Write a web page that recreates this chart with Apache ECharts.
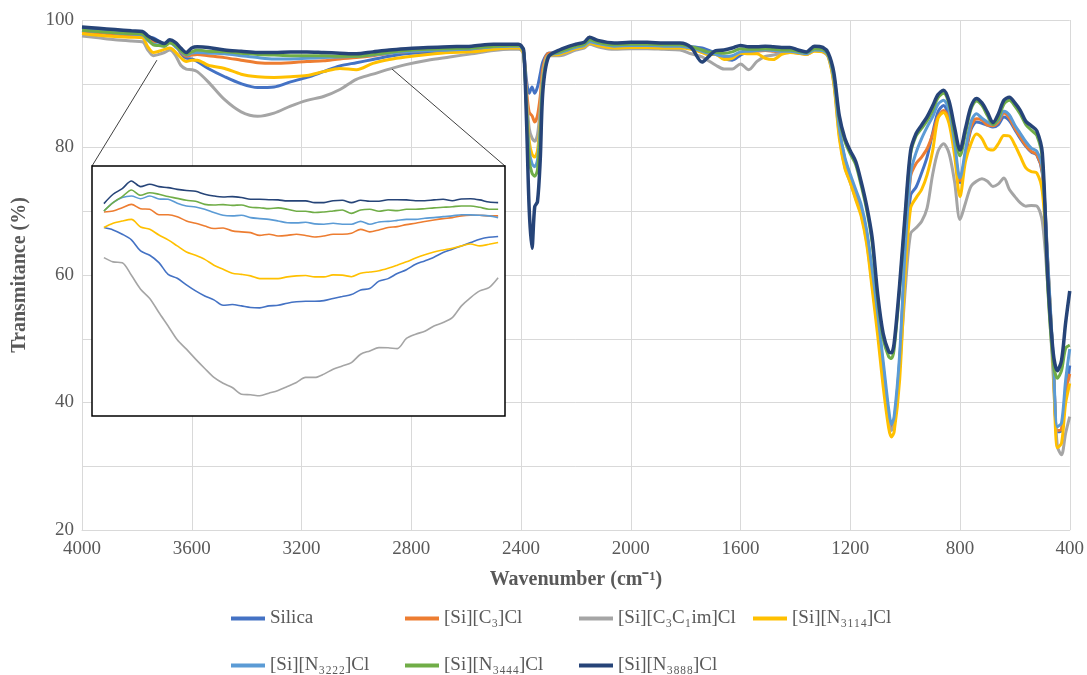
<!DOCTYPE html>
<html>
<head>
<meta charset="utf-8">
<script src="https://cdn.jsdelivr.net/npm/echarts@6/dist/echarts.min.js"></script>
<style>
  html, body { margin: 0; padding: 0; background: #fff; }
  #chart { width: 1087px; height: 675px; }
</style>
</head>
<body>
<div id="chart"></div>
<script>
const seriesNames = ["Silica", "[Si][C₃]Cl", "[Si][C₃C₁im]Cl", "[Si][N₃₁₁₄]Cl",
  "[Si][N₃₂₂₂]Cl", "[Si][N₃₄₄₄]Cl", "[Si][N₃₈₈₈]Cl"];
const seriesColors = ["#4472C4", "#ED7D31", "#A5A5A5", "#FFC000", "#5B9BD5", "#70AD47", "#264478"];

const xTicks = [4000, 3600, 3200, 2800, 2400, 2000, 1600, 1200, 800, 400];
const yTicks = [20, 40, 60, 80, 100];

// wavenumber (cm-1) for the main spectra
const wavenumber = [4000, 3940, 3880, 3820, 3780, 3760, 3740, 3720, 3700, 3680, 3660, 3640, 3620, 3600, 3580, 3540,
  3480, 3420, 3360, 3300, 3240, 3180, 3120, 3060, 3000, 2940, 2880, 2820, 2740, 2660, 2580, 2500, 2440,
  2410, 2400, 2390, 2380, 2370, 2360, 2350, 2340, 2330, 2320, 2300,
  2260, 2200, 2170, 2150, 2120, 2060, 2000, 1940, 1880, 1820, 1780, 1740, 1720, 1690, 1660, 1630, 1600, 1570, 1540, 1510, 1480, 1450, 1420, 1390, 1360, 1330, 1300,
  1280, 1260, 1240, 1220, 1200, 1180, 1160, 1140, 1120, 1100, 1080, 1060, 1050, 1040, 1020, 1000, 980, 960, 940, 920, 900, 880, 860, 840, 820, 800,
  780, 760, 740, 720, 700, 680, 660, 640, 620, 600, 580, 560, 540, 520, 500, 480, 460, 445, 430, 415, 400];

const silica = [98.7, 98.6, 98.4, 98.2, 98.1, 97.3, 97.2, 96.7, 96.3, 96.7, 96.3, 94.8, 94.0, 93.9, 93.5, 92.4,
  91.1, 90.0, 89.4, 89.5, 90.3, 91.0, 91.9, 92.8, 93.3, 93.8, 94.3, 94.7, 94.9, 95.1, 95.4, 95.7, 95.8,
  95.9, 95.8, 95.0, 90.5, 88.5, 89.5, 88.5, 89.5, 91.5, 93.5, 94.8,
  94.9, 95.8, 96.0, 96.8, 96.4, 95.9, 96.0, 96.0, 95.9, 95.9, 95.8, 95.6, 95.3, 94.8, 94.0, 93.7, 94.5, 95.1, 95.2, 95.3, 95.2, 95.1, 95.1, 94.9, 94.7, 95.3, 95.2,
  94.4, 90.7, 82.8, 78.2, 75.5, 73.0, 70.5, 66.5, 60.0, 53.0, 45.5, 38.0, 35.8, 37.0, 46.5, 62.5, 72.5, 73.8, 76.0, 78.5, 82.2, 85.6, 86.6, 84.8, 79.6, 74.5,
  78.8, 82.8, 84.0, 83.8, 83.5, 83.2, 83.6, 84.8, 84.2, 82.8, 81.4, 80.2, 79.3, 78.8, 76.0, 61.5, 46.2, 35.4, 35.6, 41.0, 45.8];

const siC3 = [98.2, 98.0, 97.8, 97.6, 97.5, 96.9, 96.6, 96.6, 96.1, 96.6, 96.0, 95.0, 94.3, 94.5, 94.6, 94.4,
  94.1, 93.7, 93.3, 93.2, 93.3, 93.5, 93.6, 93.9, 94.1, 94.4, 94.8, 95.0, 95.2, 95.3, 95.5, 95.7, 95.8,
  95.8, 95.7, 94.8, 89.0, 85.5, 85.0, 84.0, 85.0, 88.0, 92.5, 94.8,
  94.8, 95.8, 96.1, 97.3, 96.4, 95.9, 96.0, 96.0, 95.9, 95.9, 95.6, 95.1, 94.8, 94.6, 94.3, 94.2, 94.9, 95.0, 95.1, 95.2, 95.1, 95.0, 95.0, 94.8, 94.6, 95.2, 95.1,
  94.4, 90.6, 82.8, 78.0, 75.3, 72.8, 70.2, 66.0, 59.5, 52.5, 45.0, 37.5, 35.8, 36.5, 46.0, 63.0, 75.5, 77.5, 78.5, 79.8, 82.0, 84.8, 85.8, 84.5, 79.8, 74.8,
  79.0, 83.2, 84.5, 84.3, 83.5, 83.4, 84.0, 85.4, 84.6, 83.0, 81.6, 80.3, 79.4, 78.9, 76.2, 62.0, 46.0, 35.6, 35.8, 41.5, 44.5];

const siC3C1im = [97.5, 97.2, 96.9, 96.7, 96.6, 95.3, 94.4, 94.6, 94.9, 95.3, 94.5, 92.9, 92.3, 92.2, 91.9, 90.3,
  87.5, 85.6, 84.9, 85.4, 86.5, 87.4, 88.0, 89.1, 90.7, 91.5, 92.3, 93.0, 93.7, 94.2, 94.7, 95.2, 95.4,
  95.4, 95.3, 94.5, 88.0, 83.0, 81.5, 81.0, 82.0, 86.0, 91.5, 94.4,
  94.4, 95.3, 95.6, 96.2, 95.8, 95.4, 95.5, 95.5, 95.4, 95.3, 94.7, 94.2, 93.7, 92.9, 92.3, 92.3, 93.1, 92.2, 93.5, 94.3, 94.5, 94.8, 94.9, 95.0, 94.6, 95.2, 95.0,
  94.2, 90.2, 82.0, 77.0, 74.5, 72.0, 69.5, 65.2, 58.5, 51.5, 44.0, 37.0, 35.6, 36.5, 45.5, 57.5, 66.5, 67.4, 68.4, 70.5, 75.7, 79.4, 80.6, 79.1, 74.7, 68.7,
  71.3, 73.9, 74.7, 75.1, 74.7, 73.9, 74.3, 75.2, 73.4, 72.3, 71.3, 70.8, 70.9, 70.8, 68.4, 58.1, 44.0, 33.1, 31.8, 35.2, 37.8];

const siN3114 = [97.9, 97.6, 97.4, 97.3, 97.2, 95.8, 94.9, 95.1, 95.4, 95.6, 95.0, 94.1, 93.5, 93.7, 93.7, 92.9,
  92.4, 91.5, 91.1, 91.0, 91.1, 91.3, 91.9, 92.4, 92.2, 93.2, 93.8, 94.2, 94.6, 94.9, 95.0, 95.4, 95.6,
  95.6, 95.5, 94.6, 87.0, 81.0, 79.0, 78.5, 79.5, 84.0, 91.0, 94.4,
  94.6, 95.5, 95.8, 96.4, 96.0, 95.6, 95.7, 95.7, 95.6, 95.6, 95.4, 94.9, 94.6, 94.6, 93.8, 94.0, 94.8, 94.7, 94.7, 94.0, 93.8, 94.6, 94.9, 94.8, 94.6, 95.1, 95.0,
  94.2, 90.0, 81.5, 76.8, 74.5, 71.8, 69.2, 64.8, 57.8, 50.5, 42.5, 36.0, 34.6, 35.4, 43.5, 60.0, 70.5, 72.1, 73.4, 75.7, 79.4, 84.6, 85.5, 83.8, 78.8, 72.3,
  77.8, 80.6, 82.1, 81.4, 79.8, 79.6, 80.6, 81.9, 81.8, 80.4, 78.6, 76.8, 76.2, 76.0, 73.1, 61.2, 45.6, 32.9, 33.6, 39.9, 43.0];

const siN3222 = [98.4, 98.2, 98.0, 97.8, 97.7, 96.8, 96.2, 96.1, 95.9, 96.5, 95.8, 95.1, 94.5, 94.8, 94.9, 94.8,
  94.7, 94.4, 94.1, 93.9, 93.9, 94.0, 94.1, 94.2, 94.3, 94.5, 94.8, 95.0, 95.2, 95.3, 95.5, 95.8, 95.9,
  95.9, 95.8, 94.8, 86.5, 79.5, 77.5, 77.0, 78.0, 83.0, 90.5, 94.4,
  94.8, 95.7, 96.0, 96.6, 96.3, 95.9, 96.0, 96.0, 95.9, 95.9, 95.6, 95.1, 94.8, 94.6, 94.3, 94.4, 95.0, 95.1, 95.2, 95.3, 95.2, 95.1, 95.1, 94.9, 94.7, 95.3, 95.2,
  94.4, 90.8, 83.0, 78.5, 75.8, 73.4, 71.0, 67.0, 60.8, 54.0, 46.5, 39.0, 36.6, 37.8, 47.5, 64.0, 76.0, 79.2, 81.4, 83.2, 84.8, 86.8, 87.4, 85.8, 80.8, 75.2,
  79.6, 84.0, 85.3, 84.6, 84.0, 83.6, 84.3, 85.7, 85.1, 83.5, 82.2, 80.9, 79.9, 79.4, 76.8, 62.2, 46.6, 36.2, 36.8, 43.5, 48.4];

const siN3444 = [98.4, 98.2, 98.0, 97.9, 97.8, 97.0, 96.1, 96.0, 95.9, 96.4, 96.0, 95.2, 94.6, 95.0, 95.3, 95.1,
  95.0, 94.8, 94.6, 94.5, 94.4, 94.4, 94.4, 94.3, 94.3, 94.6, 94.9, 95.2, 95.4, 95.5, 95.6, 95.9, 96.0,
  96.0, 95.9, 94.9, 86.0, 78.0, 76.0, 75.5, 76.5, 82.0, 90.0, 94.3,
  95.0, 95.9, 96.2, 96.9, 96.5, 96.1, 96.2, 96.2, 96.1, 96.1, 95.8, 95.3, 95.0, 94.9, 94.8, 95.0, 95.5, 95.4, 95.4, 95.5, 95.4, 95.3, 95.3, 95.1, 94.9, 95.5, 95.4,
  94.6, 91.4, 84.5, 81.0, 79.0, 77.3, 74.0, 70.2, 65.0, 56.2, 50.0, 47.2, 46.9, 48.4, 57.8, 69.0, 79.0, 81.8, 83.0, 84.2, 85.8, 87.8, 88.5, 86.8, 82.2, 78.7,
  82.2, 86.0, 87.3, 86.6, 85.0, 83.6, 84.6, 86.8, 87.4, 86.5, 85.2, 83.6, 82.7, 81.9, 78.3, 58.0, 46.3, 43.8, 45.0, 48.5, 49.0];

const siN3888 = [98.9, 98.7, 98.5, 98.3, 98.2, 97.5, 97.0, 96.6, 96.3, 96.9, 96.5, 95.6, 94.9, 95.6, 95.8, 95.7,
  95.3, 95.1, 94.9, 94.9, 95.0, 95.0, 94.9, 94.8, 94.7, 95.0, 95.3, 95.5, 95.7, 95.8, 95.9, 96.2, 96.2,
  96.2, 96.0, 95.2, 84.3, 70.2, 64.2, 70.7, 71.5, 78.0, 89.0, 94.2,
  95.3, 96.2, 96.5, 97.3, 96.8, 96.4, 96.5, 96.5, 96.4, 96.4, 95.7, 93.4, 94.1, 95.2, 95.3, 95.6, 96.0, 95.8, 95.8, 95.9, 95.8, 95.7, 95.7, 95.3, 95.0, 95.9, 95.7,
  94.8, 91.8, 85.0, 81.5, 79.5, 77.8, 74.6, 70.8, 65.8, 57.0, 50.8, 48.0, 47.8, 49.3, 58.5, 69.5, 79.5, 82.2, 83.5, 84.8, 86.5, 88.3, 89.0, 87.3, 83.2, 79.6,
  83.0, 86.4, 87.7, 87.0, 85.5, 83.9, 85.3, 87.4, 87.9, 87.0, 85.8, 84.1, 83.4, 82.6, 79.1, 59.6, 47.7, 45.0, 46.6, 52.5, 57.5];

// magnified O-H region shown in the inset
const insetWavenumber = [3720, 3700, 3680, 3660, 3640, 3620, 3600, 3580, 3560, 3540, 3520, 3500, 3480, 3460, 3440,
  3420, 3400, 3380, 3360, 3340, 3320, 3300, 3280, 3260, 3240, 3220, 3200, 3180, 3160, 3140, 3120, 3100, 3080,
  3060, 3040, 3020, 3000, 2980, 2960, 2940, 2920, 2900, 2880, 2860];

const insetSilica = [93.44, 93.32, 93.10, 92.81, 92.24, 92.02, 91.64, 91.04, 90.84, 90.50, 90.19, 89.93, 89.73, 89.45, 89.49,
  89.42, 89.34, 89.32, 89.42, 89.45, 89.56, 89.63, 89.66, 89.66, 89.69, 89.80, 89.90, 90.00, 90.24, 90.31, 90.69, 90.82, 91.08,
  91.28, 91.56, 91.73, 91.92, 92.16, 92.33, 92.50, 92.67, 92.84, 92.94, 92.98];
const insetC3 = [94.24, 94.29, 94.46, 94.63, 94.41, 94.38, 94.10, 94.10, 94.00, 93.78, 93.66, 93.52, 93.39, 93.42, 93.27,
  93.22, 93.18, 93.04, 93.10, 93.01, 93.04, 93.10, 93.03, 92.96, 93.01, 93.10, 93.10, 93.15, 93.35, 93.22, 93.32, 93.44, 93.49,
  93.59, 93.66, 93.75, 93.83, 93.90, 93.95, 94.04, 94.07, 94.07, 94.04, 94.04];
const insetC3C1im = [91.90, 91.68, 91.64, 90.99, 90.28, 89.80, 89.08, 88.39, 87.68, 87.20, 86.69, 86.21, 85.75, 85.45, 85.23,
  84.89, 84.86, 84.81, 84.94, 85.08, 85.28, 85.49, 85.75, 85.75, 85.92, 86.17, 86.34, 86.51, 86.94, 87.11, 87.28, 87.27, 87.23,
  87.75, 87.97, 88.12, 88.39, 88.57, 88.82, 89.42, 89.85, 90.19, 90.36, 90.87];
const insetN3114 = [93.44, 93.66, 93.78, 93.86, 93.47, 93.35, 93.06, 92.81, 92.50, 92.19, 92.02, 91.81, 91.51, 91.30, 91.10,
  91.04, 90.96, 90.82, 90.82, 90.82, 90.91, 90.96, 90.98, 90.91, 90.91, 91.01, 91.00, 90.92, 91.10, 91.16, 91.22, 91.35, 91.51,
  91.68, 91.88, 92.05, 92.19, 92.29, 92.38, 92.50, 92.60, 92.50, 92.58, 92.67];
const insetN3222 = [94.29, 94.72, 94.98, 95.06, 94.92, 95.06, 94.91, 94.89, 94.69, 94.55, 94.50, 94.38, 94.21, 94.07, 94.04,
  94.07, 93.95, 93.90, 93.86, 93.78, 93.69, 93.68, 93.71, 93.63, 93.61, 93.66, 93.61, 93.61, 93.76, 93.61, 93.73, 93.76, 93.81,
  93.86, 93.86, 93.92, 93.95, 94.00, 94.04, 94.10, 94.09, 94.07, 94.04, 93.95];
const insetN3444 = [94.29, 94.72, 95.03, 95.37, 95.10, 95.23, 95.15, 95.03, 94.94, 94.84, 94.79, 94.63, 94.60, 94.62, 94.58,
  94.60, 94.48, 94.46, 94.41, 94.45, 94.38, 94.28, 94.28, 94.21, 94.24, 94.29, 94.34, 94.17, 94.34, 94.38, 94.28, 94.34, 94.31,
  94.38, 94.38, 94.41, 94.45, 94.48, 94.51, 94.55, 94.55, 94.48, 94.38, 94.38];
const insetN3888 = [94.67, 95.15, 95.44, 95.83, 95.54, 95.66, 95.54, 95.49, 95.40, 95.34, 95.30, 95.15, 95.06, 95.01, 95.03,
  94.98, 94.89, 94.89, 94.87, 94.86, 94.81, 94.81, 94.81, 94.72, 94.72, 94.82, 94.84, 94.72, 94.84, 94.79, 94.79, 94.87, 94.87,
  94.86, 94.82, 94.82, 94.86, 94.89, 94.82, 94.91, 94.92, 94.86, 94.75, 94.72];

// points on the main spectrum that the inset's guide lines start from
const zoomFrom = [3727, 93.7];
const zoomTo = [2870, 92.3];

const mainValues = [silica, siC3, siC3C1im, siN3114, siN3222, siN3444, siN3888];
const insetValues = [insetSilica, insetC3, insetC3C1im, insetN3114, insetN3222, insetN3444, insetN3888];

const font = "'Liberation Serif', 'Times New Roman', serif";
const textGrey = "#595959";
const pairs = (xs, ys) => xs.map((x, i) => [x, ys[i]]);

const chart = echarts.init(document.getElementById("chart"));

const series = [];
mainValues.forEach((vals, i) => {
  series.push({
    name: seriesNames[i],
    type: "line",
    data: pairs(wavenumber, vals),
    xAxisIndex: 0,
    yAxisIndex: 0,
    showSymbol: false,
    smooth: 0.3,
    lineStyle: { color: seriesColors[i], width: i === 6 ? 3.5 : 3 },
    itemStyle: { color: seriesColors[i] },
    z: 2,
  });
});
insetValues.forEach((vals, i) => {
  series.push({
    name: seriesNames[i],
    type: "line",
    data: pairs(insetWavenumber, vals),
    xAxisIndex: 1,
    yAxisIndex: 1,
    showSymbol: false,
    smooth: 0.3,
    lineStyle: { color: seriesColors[i], width: 1.6 },
    itemStyle: { color: seriesColors[i] },
    z: 6,
  });
});

// one legend per entry, laid out as a 4 + 3 table under the chart
const legends = seriesNames.map((name, i) => ({
  data: [name],
  left: 226 + (i % 4) * 174,
  top: i < 4 ? 604 : 651,
  icon: "rect",
  itemWidth: 34,
  itemHeight: 4,
  textStyle: { fontFamily: font, fontSize: 19, color: textGrey },
}));

const option = {
  animation: false,
  backgroundColor: "#fff",
  grid: [
    { left: 82, right: 17, top: 20, bottom: 145 },
    {
      left: 92, top: 166, width: 413, height: 250,
      show: true, backgroundColor: "#fff", borderColor: "#000", borderWidth: 1.5, z: 5,
    },
  ],
  xAxis: [
    {
      type: "value",
      gridIndex: 0,
      inverse: true,
      min: 400,
      max: 4000,
      interval: 400,
      name: "Wavenumber (cm⁻¹)",
      nameLocation: "middle",
      nameGap: 40,
      nameTextStyle: { fontFamily: font, fontSize: 20, fontWeight: "bold", color: textGrey },
      axisLine: { show: true, lineStyle: { color: "#D9D9D9" } },
      axisTick: { show: false },
      axisLabel: {
        fontFamily: font, fontSize: 19, color: textGrey, margin: 10,
        showMinLabel: true, showMaxLabel: true,
        formatter: (v) => (xTicks.includes(v) ? String(v) : ""),
      },
      splitLine: { show: true, lineStyle: { color: "#D9D9D9", width: 1 } },
    },
    { type: "value", gridIndex: 1, inverse: true, min: 2845, max: 3746, show: false },
  ],
  yAxis: [
    {
      type: "value",
      gridIndex: 0,
      min: 20,
      max: 100,
      interval: 10,
      name: "Transmitance (%)",
      nameLocation: "middle",
      nameGap: 52,
      nameTextStyle: { fontFamily: font, fontSize: 20, fontWeight: "bold", color: textGrey },
      axisLine: { show: false },
      axisTick: { show: false },
      axisLabel: {
        fontFamily: font, fontSize: 19, color: textGrey, margin: 8,
        formatter: (v) => (yTicks.includes(v) ? String(v) : ""),
      },
      splitLine: { show: true, lineStyle: { color: "#D9D9D9", width: 1 } },
    },
    { type: "value", gridIndex: 1, min: 83.77, max: 96.6, show: false },
  ],
  legend: legends,
  series: series,
};

chart.setOption(option);

// guide lines from the main spectrum to the top corners of the inset
const insetX = option.xAxis[1];
const insetY = option.yAxis[1];
const fromA = chart.convertToPixel({ gridIndex: 0 }, zoomFrom);
const fromB = chart.convertToPixel({ gridIndex: 0 }, zoomTo);
const cornerA = chart.convertToPixel({ gridIndex: 1 }, [insetX.max, insetY.max]);
const cornerB = chart.convertToPixel({ gridIndex: 1 }, [insetX.min, insetY.max]);

chart.setOption({
  graphic: [
    {
      type: "line", z: 4,
      shape: { x1: fromA[0], y1: fromA[1], x2: cornerA[0], y2: cornerA[1] },
      style: { stroke: "#404040", lineWidth: 1 },
    },
    {
      type: "line", z: 4,
      shape: { x1: fromB[0], y1: fromB[1], x2: cornerB[0], y2: cornerB[1] },
      style: { stroke: "#404040", lineWidth: 1 },
    },
  ],
});
</script>
</body>
</html>
